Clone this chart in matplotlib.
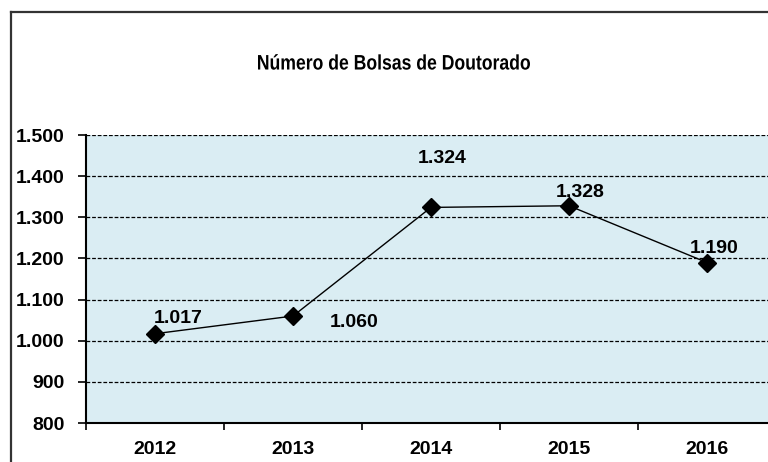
import matplotlib
matplotlib.use("Agg")
import matplotlib.pyplot as plt
from matplotlib.ticker import FuncFormatter, FixedLocator
from matplotlib.lines import Line2D
from matplotlib.textpath import TextPath
from matplotlib.font_manager import FontProperties
from matplotlib.patches import PathPatch
from matplotlib.transforms import Affine2D, IdentityTransform

years = ["2012", "2013", "2014", "2015", "2016"]
bolsas = [1017, 1060, 1324, 1328, 1190]
title = "Número de Bolsas de Doutorado"
# label offsets in pixels relative to each point
label_offsets = [(23, 15), (61, -6), (11, 49), (11, 13), (7, 14)]

plt.rcParams["font.family"] = ["Liberation Sans", "DejaVu Sans"]
plt.rcParams["font.weight"] = "bold"

W, H, DPI = 768, 462, 100
fig = plt.figure(figsize=(W / DPI, H / DPI), dpi=DPI)
ax = fig.add_axes([86 / W, 39 / H, 690 / W, 288 / H])
ax.set_facecolor("#DAEDF3")

x = list(range(len(years)))
ax.plot(x, bolsas, color="black", lw=1.0, marker="D", markersize=9.5,
        markerfacecolor="black", markeredgecolor="black", zorder=3, clip_on=False)

def fmt(v):
    return f"{int(round(v)):,}".replace(",", ".")

for xi, v, (dx, dy) in zip(x, bolsas, label_offsets):
    ax.annotate(fmt(v), (xi, v), xytext=(dx, dy), textcoords="offset pixels",
                ha="center", va="center", fontsize=14, fontweight="bold")

ax.set_xlim(-0.5, len(years) - 0.5)
ax.set_ylim(800, 1500)
ax.set_yticks(range(800, 1501, 100))
ax.yaxis.set_major_formatter(FuncFormatter(lambda v, p: fmt(v)))
ax.set_xticks(x)
ax.set_xticklabels(years)
ax.xaxis.set_minor_locator(FixedLocator([i - 0.5 for i in range(len(years) + 1)]))
ax.tick_params(axis="x", which="major", length=0, pad=13, labelsize=14)
ax.tick_params(axis="x", which="minor", length=5, width=1.2, direction="out")
ax.tick_params(axis="y", length=5.5, width=1.2, direction="out", pad=10, labelsize=14)
for lbl in ax.get_xticklabels() + ax.get_yticklabels():
    lbl.set_fontweight("bold")

ax.grid(axis="y", color="black", linestyle=(0, (3, 1.5)), lw=0.9)
ax.set_axisbelow(True)
for s in ["top", "right"]:
    ax.spines[s].set_visible(False)
for s in ["left", "bottom"]:
    ax.spines[s].set_linewidth(1.5)

# condensed bold title drawn as a horizontally squeezed text path (pixel coords)
fp = FontProperties(family="Liberation Sans", weight="bold")
tp = TextPath((0, 0), title, size=21, prop=fp)
ext = tp.get_extents()
sx = 272 / ext.width
cap = 0.716 * 21
tr = Affine2D().scale(sx, 1).translate(394 - ext.width * sx / 2 - ext.x0 * sx,
                                       H - 62 - cap / 2)
fig.add_artist(PathPatch(tr.transform_path(tp), transform=IdentityTransform(),
                         facecolor="black", edgecolor="none", lw=0))

# outer chart frame
fig.add_artist(Line2D([11 / W, 11 / W], [0, 1 - 12 / H], transform=fig.transFigure,
                      color="#333333", lw=1.6))
fig.add_artist(Line2D([11 / W, 1], [1 - 12 / H, 1 - 12 / H], transform=fig.transFigure,
                      color="#333333", lw=1.6))

fig.savefig("out.png", dpi=DPI)
